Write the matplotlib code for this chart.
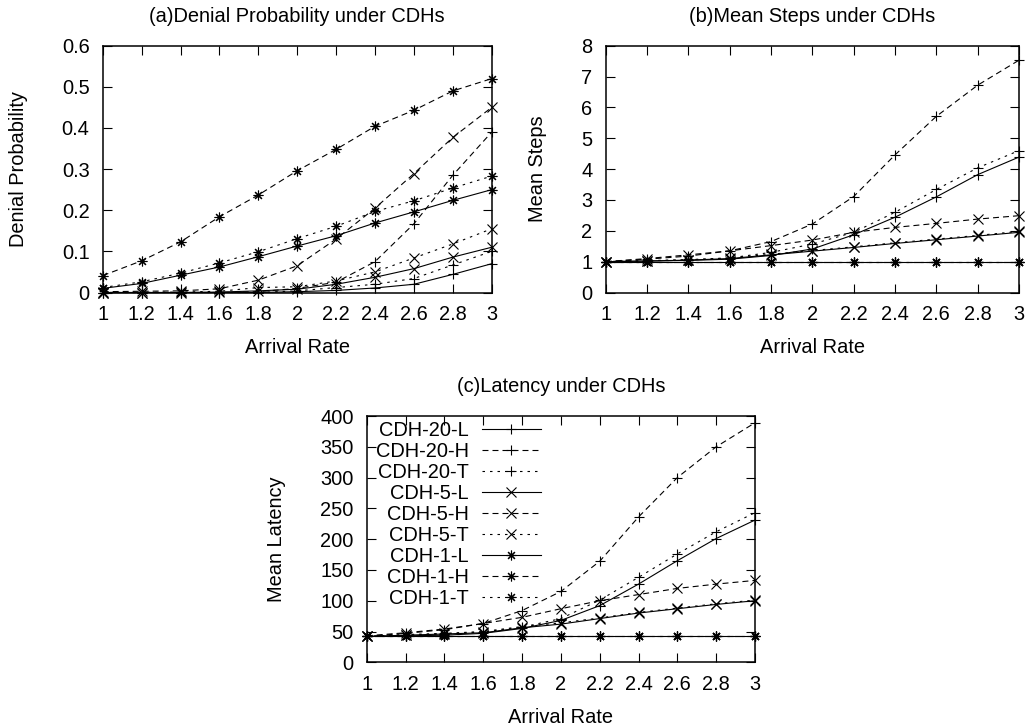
import matplotlib
matplotlib.use("Agg")
import matplotlib.pyplot as plt
import numpy as np

plt.rcParams['font.family'] = ['Liberation Sans', 'DejaVu Sans']
plt.rcParams['lines.scale_dashes'] = False

# ---------------- data ----------------
arrival_rate = [1.0, 1.2, 1.4, 1.6, 1.8, 2.0, 2.2, 2.4, 2.6, 2.8, 3.0]
series_names = ["CDH-20-L", "CDH-20-H", "CDH-20-T",
                "CDH-5-L", "CDH-5-H", "CDH-5-T",
                "CDH-1-L", "CDH-1-H", "CDH-1-T"]

# (a) Denial probability
denial_20_L = [0, 0, 0, 0, 0, 0.002, 0.005, 0.011, 0.020, 0.044, 0.070]
denial_20_H = [0, 0, 0, 0, 0.002, 0.010, 0.025, 0.075, 0.167, 0.285, 0.390]
denial_20_T = [0, 0, 0, 0, 0, 0.004, 0.012, 0.020, 0.034, 0.067, 0.100]
denial_5_L = [0, 0, 0, 0.001, 0.004, 0.008, 0.020, 0.037, 0.058, 0.086, 0.110]
denial_5_H = [0.002, 0.003, 0.004, 0.009, 0.030, 0.065, 0.130, 0.205, 0.289, 0.377, 0.450]
denial_5_T = [0, 0, 0.001, 0.003, 0.012, 0.014, 0.028, 0.050, 0.084, 0.118, 0.155]
denial_1_L = [0.010, 0.022, 0.042, 0.062, 0.087, 0.113, 0.138, 0.169, 0.196, 0.224, 0.250]
denial_1_H = [0.041, 0.077, 0.123, 0.184, 0.237, 0.296, 0.348, 0.404, 0.443, 0.490, 0.520]
denial_1_T = [0.012, 0.026, 0.047, 0.072, 0.099, 0.131, 0.161, 0.197, 0.223, 0.254, 0.283]

# (b) Mean steps
steps_20_L = [1, 1.02, 1.04, 1.08, 1.20, 1.41, 1.87, 2.44, 3.10, 3.82, 4.39]
steps_20_H = [1, 1.08, 1.18, 1.35, 1.65, 2.22, 3.11, 4.46, 5.71, 6.72, 7.53]
steps_20_T = [1, 1.03, 1.06, 1.12, 1.30, 1.57, 1.95, 2.60, 3.34, 4.04, 4.60]
steps_5_L = [1, 1.02, 1.05, 1.10, 1.22, 1.34, 1.46, 1.59, 1.71, 1.83, 1.95]
steps_5_H = [1, 1.10, 1.22, 1.35, 1.52, 1.70, 1.95, 2.11, 2.24, 2.38, 2.49]
steps_5_T = [1, 1.03, 1.06, 1.12, 1.24, 1.36, 1.48, 1.61, 1.73, 1.85, 1.98]
steps_1_L = [1, 1, 1, 1, 1, 1, 1, 1, 1, 1, 1]
steps_1_H = [1, 1, 1, 1, 1, 1, 1, 1, 1, 1, 1]
steps_1_T = [1, 1, 1, 1, 1, 1, 1, 1, 1, 1, 1]

# (c) Mean latency
lat_20_L = [42, 43, 44, 47, 55, 68, 92, 127, 165, 201, 231]
lat_20_H = [42, 47, 53, 63, 84, 115, 164, 236, 300, 350, 389]
lat_20_T = [42, 44, 46, 49, 57, 71, 101, 138, 176, 212, 243]
lat_5_L = [42, 44, 46, 48, 56, 62, 71, 80, 87, 94, 100]
lat_5_H = [43, 48, 54, 63, 73, 87, 100, 110, 120, 127, 133]
lat_5_T = [42, 45, 47, 50, 58, 64, 72, 81, 88, 95, 101]
lat_1_L = [42, 42, 42, 42, 42, 42, 42, 42, 42, 42, 42]
lat_1_H = [42, 42, 42, 42, 42, 42, 42, 42, 42, 42, 42]
lat_1_T = [42, 42, 42, 42, 42, 42, 42, 42, 42, 42, 42]

x_ticks = [1, 1.2, 1.4, 1.6, 1.8, 2, 2.2, 2.4, 2.6, 2.8, 3]
x_tick_labels = ["1", "1.2", "1.4", "1.6", "1.8", "2", "2.2", "2.4", "2.6", "2.8", "3"]
a_ticks = [0, 0.1, 0.2, 0.3, 0.4, 0.5, 0.6]
a_tick_labels = ["0", "0.1", "0.2", "0.3", "0.4", "0.5", "0.6"]
b_ticks = [0, 1, 2, 3, 4, 5, 6, 7, 8]
c_ticks = [0, 50, 100, 150, 200, 250, 300, 350, 400]

# ---------------- styles ----------------
ASTER = (8, 2, 0)
markers = ['+', '+', '+', 'x', 'x', 'x', ASTER, ASTER, ASTER]
SOLID = '-'
DASHED = (0, (4.3, 2.9))
DOTTED = (0, (1.8, 3.6))
styles = [SOLID, DASHED, DOTTED] * 3

FS = 14.4
W, H = 1030, 728
fig = plt.figure(figsize=(W / 100, H / 100), dpi=100)


def px_axes(left, top, right, bottom):
    return fig.add_axes([left / W, 1 - bottom / H, (right - left) / W, (bottom - top) / H])


def style_axes(ax, yticks, ylabels, ylim, title, ylabel, ylabel_x, title_pad):
    ax.set_xlim(1, 3)
    ax.set_ylim(*ylim)
    ax.set_xticks(x_ticks)
    ax.set_xticklabels(x_tick_labels)
    ax.set_yticks(yticks)
    ax.set_yticklabels(ylabels)
    ax.tick_params(direction='in', length=6.5, width=0.8, top=True, right=True,
                   labelsize=FS)
    ax.tick_params(axis='y', pad=9.5)
    ax.tick_params(axis='x', pad=9)
    for s in ax.spines.values():
        s.set_linewidth(1.1)
    ax.set_title(title, fontsize=FS, pad=title_pad)
    ax.set_xlabel("Arrival Rate", fontsize=FS, labelpad=10)
    ax.set_ylabel(ylabel, fontsize=FS)
    ax.yaxis.set_label_coords(ylabel_x, 0.5)


def draw(ax, data):
    for name, ys, mk, ls in zip(series_names, data, markers, styles):
        ax.plot(arrival_rate, ys, color='black', linestyle=ls, linewidth=0.8,
                marker=mk, markersize=7, markeredgewidth=0.8, clip_on=False,
                label=name)


# (a)
ax_a = px_axes(102.7, 45.7, 491.7, 292.5)
draw(ax_a, [denial_20_L, denial_20_H, denial_20_T, denial_5_L, denial_5_H,
            denial_5_T, denial_1_L, denial_1_H, denial_1_T])
style_axes(ax_a, a_ticks, a_tick_labels, (0, 0.6),
           "(a)Denial Probability under CDHs", "Denial Probability", -0.192, 17)

# (b)
ax_b = px_axes(605.7, 45.7, 1019, 292.5)
draw(ax_b, [steps_20_L, steps_20_H, steps_20_T, steps_5_L, steps_5_H,
            steps_5_T, steps_1_L, steps_1_H, steps_1_T])
style_axes(ax_b, b_ticks, [str(t) for t in b_ticks], (0, 8),
           "(b)Mean Steps under CDHs", "Mean Steps", -0.142, 17)

# (c)
ax_c = px_axes(366.7, 416, 755, 662.3)
draw(ax_c, [lat_20_L, lat_20_H, lat_20_T, lat_5_L, lat_5_H,
            lat_5_T, lat_1_L, lat_1_H, lat_1_T])
style_axes(ax_c, c_ticks, [str(t) for t in c_ticks], (0, 400),
           "(c)Latency under CDHs", "Mean Latency", -0.208, 17)

leg = ax_c.legend(loc='upper left', bbox_to_anchor=(0.024, 0.98), frameon=False,
                  markerfirst=False, numpoints=1, fontsize=FS, handlelength=2.95,
                  handletextpad=0.63, labelspacing=0.1, borderpad=0,
                  borderaxespad=0)
for col in leg._legend_handle_box.get_children():
    col.align = 'right'

fig.savefig("out.png", dpi=100)
